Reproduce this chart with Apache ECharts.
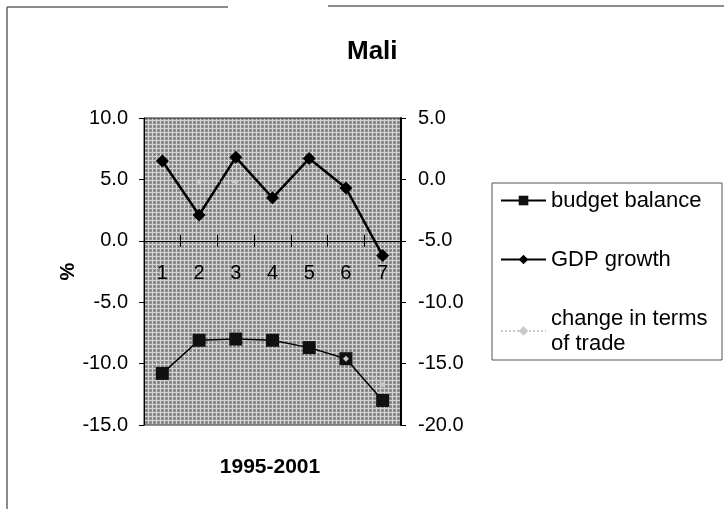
<!DOCTYPE html>
<html>
<head>
<meta charset="utf-8">
<title>Mali</title>
<script src="https://cdn.jsdelivr.net/npm/echarts@6/dist/echarts.min.js"></script>
<style>
html,body{margin:0;padding:0;background:#fff;}
#main{width:728px;height:509px;}
</style>
</head>
<body>
<div id="main"></div>
<script>
// values (1 = 1995 ... 7 = 2001)
var categories = ['1', '2', '3', '4', '5', '6', '7'];
var budgetBalance = [-10.8, -8.1, -8.0, -8.1, -8.7, -9.6, -13.0];
var gdpGrowth = [6.5, 2.1, 6.8, 3.5, 6.7, 4.3, -1.2];
// barely visible on the grey pattern, rough guesses
var termsOfTrade = [null, -0.2, -0.2, null, null, -14.6, -16.7];
var leftAxisRange = [-15, 10, 5];
var rightAxisRange = [-20, 5, 5];

var FONT = 'Arial, "Liberation Sans", sans-serif';

var GRID_TOP = 118, GRID_BOTTOM = 84, CHART_H = 509;
var plotH = CHART_H - GRID_TOP - GRID_BOTTOM;
// pixel offset of the zero line of the left axis from the plot bottom / top
var zeroFromBottom = plotH * (0 - leftAxisRange[0]) / (leftAxisRange[1] - leftAxisRange[0]);
var zeroFromTop = plotH - zeroFromBottom;

// grey stippled fill like the printed plot area
function stipple() {
    var c = document.createElement('canvas');
    c.width = 4; c.height = 4;
    var g = c.getContext('2d');
    g.fillStyle = '#929292';
    g.fillRect(0, 0, 4, 4);
    g.fillStyle = 'rgba(255,255,255,0.6)';
    g.fillRect(0, 0, 4, 1);
    g.fillRect(0, 1, 1, 3);
    g.fillStyle = 'rgba(0,0,0,0.25)';
    g.fillRect(2, 2, 1, 1);
    return c;
}

var myChart = echarts.init(document.getElementById('main'), null, {renderer: 'canvas'});

var fmt1 = function (v) { return v.toFixed(1); };

var option = {
    animation: false,
    backgroundColor: '#fff',
    title: {
        text: 'Mali',
        left: 342,
        top: 34,
        textStyle: {fontFamily: FONT, fontSize: 26, fontWeight: 'bold', color: '#000'}
    },
    legend: {
        orient: 'vertical',
        left: 500,
        top: 188,
        padding: 0,
        itemGap: 34,
        itemWidth: 45,
        itemHeight: 12,
        data: ['budget balance', 'GDP growth', 'change in terms of trade'],
        formatter: function (name) {
            return name === 'change in terms of trade' ? 'change in terms\nof trade' : name;
        },
        textStyle: {fontFamily: FONT, fontSize: 22, color: '#000', lineHeight: 25}
    },
    grid: {
        left: 144,
        right: 327,
        top: GRID_TOP,
        bottom: GRID_BOTTOM,
        show: true,
        backgroundColor: {image: stipple(), repeat: 'repeat'},
        borderColor: '#222',
        borderWidth: 1
    },
    xAxis: [
        {
            // moved up onto the zero line, labels hang below it inside the plot
            type: 'category',
            data: categories,
            position: 'bottom',
            offset: -zeroFromBottom,
            axisLine: {onZero: false, lineStyle: {color: '#000', width: 1}},
            axisTick: {show: true, length: 6, interval: 0, lineStyle: {color: '#000'}},
            axisLabel: {margin: 23, fontFamily: FONT, fontSize: 20, color: '#000'},
            splitLine: {show: false}
        },
        {
            // second axis only to give the cross-style ticks
            type: 'category',
            data: categories,
            position: 'top',
            offset: -zeroFromTop,
            axisLine: {show: false, onZero: false},
            axisTick: {show: true, length: 6, interval: 0, lineStyle: {color: '#000'}},
            axisLabel: {show: false},
            splitLine: {show: false}
        }
    ],
    yAxis: [
        {
            type: 'value',
            position: 'left',
            min: leftAxisRange[0],
            max: leftAxisRange[1],
            interval: leftAxisRange[2],
            name: '%',
            nameLocation: 'middle',
            nameGap: 64,
            nameRotate: 90,
            nameTextStyle: {fontFamily: FONT, fontSize: 20, fontWeight: 'bold', color: '#000'},
            axisLine: {show: true, lineStyle: {color: '#000', width: 1}},
            axisTick: {show: true, length: 5, lineStyle: {color: '#000'}},
            axisLabel: {margin: 16, formatter: fmt1, fontFamily: FONT, fontSize: 20, color: '#000'},
            splitLine: {show: false}
        },
        {
            type: 'value',
            position: 'right',
            min: rightAxisRange[0],
            max: rightAxisRange[1],
            interval: rightAxisRange[2],
            axisLine: {show: true, lineStyle: {color: '#000', width: 2}},
            axisTick: {show: true, length: 5, lineStyle: {color: '#000'}},
            axisLabel: {margin: 17, formatter: fmt1, fontFamily: FONT, fontSize: 20, color: '#000'},
            splitLine: {show: false}
        }
    ],
    series: [
        {
            name: 'budget balance',
            type: 'line',
            yAxisIndex: 0,
            data: budgetBalance,
            symbol: 'rect',
            symbolSize: 13,
            lineStyle: {color: '#000', width: 1.5},
            itemStyle: {color: '#111'}
        },
        {
            name: 'GDP growth',
            type: 'line',
            yAxisIndex: 0,
            data: gdpGrowth,
            symbol: 'diamond',
            symbolSize: 13,
            lineStyle: {color: '#000', width: 2.5},
            itemStyle: {color: '#000'}
        },
        {
            name: 'change in terms of trade',
            type: 'line',
            yAxisIndex: 1,
            data: termsOfTrade,
            symbol: 'diamond',
            symbolSize: 6,
            lineStyle: {color: '#c8c8c8', width: 1, type: 'dotted'},
            itemStyle: {color: '#c8c8c8'}
        }
    ],
    graphic: [
        // frame left by the scan
        {type: 'line', shape: {x1: 7, y1: 7, x2: 7, y2: 509}, style: {stroke: '#666', lineWidth: 1.5}},
        {type: 'line', shape: {x1: 7, y1: 7, x2: 228, y2: 7}, style: {stroke: '#666', lineWidth: 1.5}},
        {type: 'line', shape: {x1: 328, y1: 6, x2: 724, y2: 6}, style: {stroke: '#666', lineWidth: 1.5}},
        // legend box
        {type: 'rect', shape: {x: 492, y: 183, width: 230, height: 177},
         style: {fill: 'none', stroke: '#555', lineWidth: 1}},
        // x axis title
        {type: 'text', x: 270, y: 467,
         style: {text: '1995-2001', align: 'center', verticalAlign: 'middle',
                 font: 'bold 21px ' + FONT, fill: '#000'}}
    ]
};

myChart.setOption(option);
</script>
</body>
</html>
